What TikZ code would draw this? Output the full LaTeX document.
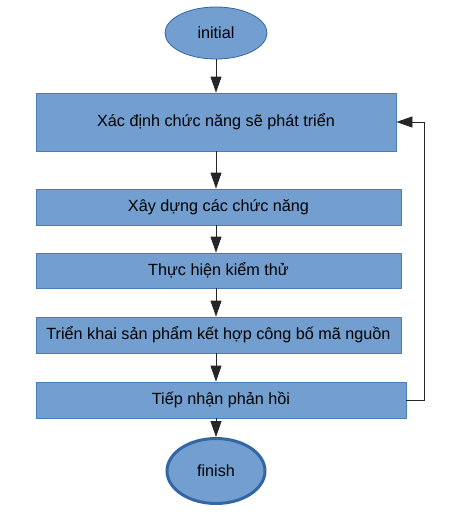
\documentclass[tikz,border=0pt]{standalone}
\usepackage{fontspec}
\setmainfont{Liberation Sans}
\usetikzlibrary{shapes.geometric,arrows.meta}
\definecolor{boxfill}{HTML}{729FCF}
\definecolor{boxline}{HTML}{4A7EBB}
\definecolor{darkline}{HTML}{3465A4}
\begin{document}
\begin{tikzpicture}[x=1pt,y=-1pt,
  stepbox/.style={draw=boxline,fill=boxfill,line width=0.8pt,inner sep=0pt,font=\fontsize{16.2}{18}\selectfont},
  termnode/.style={ellipse,draw=darkline,fill=boxfill,inner sep=0pt,font=\fontsize{16.2}{18}\selectfont},
  flow/.style={draw=black!85,line width=0.8pt,-{Triangle[length=16pt,width=11pt]}}]
\useasboundingbox (0,0) rectangle (450,515);
\node[termnode,minimum width=102pt,minimum height=52pt,line width=0.8pt] (init) at (216,33) {initial};
\node[stepbox,minimum width=360pt,minimum height=58pt] (b1) at (216,122) {Xác định chức năng sẽ phát triển};
\node[stepbox,minimum width=365pt,minimum height=36pt] (b2) at (218.5,207) {Xây dựng các chức năng};
\node[stepbox,minimum width=365pt,minimum height=35pt] (b3) at (218.5,270.5) {Thực hiện kiểm thử};
\node[stepbox,minimum width=365pt,minimum height=36pt] (b4) at (218.5,335) {Triển khai sản phẩm kết hợp công bố mã nguồn};
\node[stepbox,minimum width=370pt,minimum height=36pt] (b5) at (221,400) {Tiếp nhận phản hồi};
\node[termnode,minimum width=98pt,minimum height=65pt,line width=3pt] (fin) at (216,471) {finish};
\coordinate (r1) at (424,400);
\coordinate (r2) at (424,122);
\draw[flow] (init.south) -- (b1.north -| init.south);
\draw[flow] (b1.south -| init.south) -- (b2.north -| init.south);
\draw[flow] (b2.south -| init.south) -- (b3.north -| init.south);
\draw[flow] (b3.south -| init.south) -- (b4.north -| init.south);
\draw[flow] (b4.south -| init.south) -- (b5.north -| init.south);
\draw[flow] (b5.south -| init.south) -- (fin.north);
\draw[flow] (b5.east) -- (r1) -- (r2) -- (b1.east);
\end{tikzpicture}
\end{document}
